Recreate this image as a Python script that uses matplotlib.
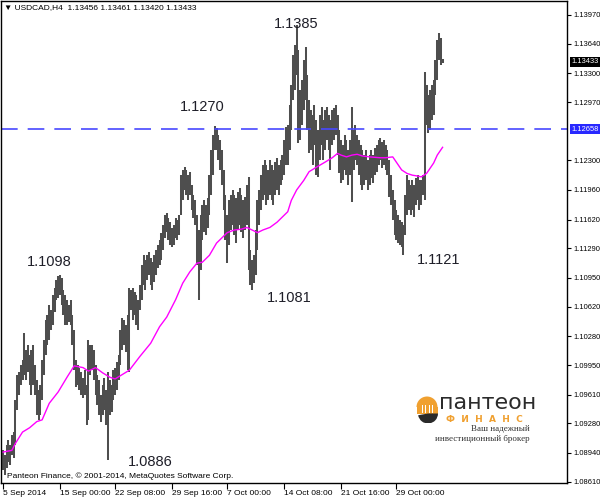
import matplotlib
matplotlib.use("Agg")
import matplotlib.pyplot as plt
from matplotlib.patches import Wedge, Rectangle
import numpy as np

# USDCAD H4 bars (high / low per bar)
highs = [
    1.0897, 1.0892, 1.0903, 1.0909, 1.0903, 1.0915, 1.0918, 1.0955, 1.0984, 1.0987,
    1.0995, 1.1001, 1.1032, 1.1012, 1.1018, 1.1007, 1.1012, 1.1018, 1.0995, 1.0978,
    1.0966, 1.0972, 1.1001, 1.1024, 1.1047, 1.1052, 1.1064, 1.1058, 1.1075, 1.1083,
    1.1093, 1.1097, 1.1098, 1.1095, 1.1081, 1.1075, 1.1070, 1.1064, 1.1070, 1.1052,
    1.1035, 1.1001, 1.0995, 1.0992, 1.0987, 1.0980, 1.0989, 1.0972, 1.1024, 1.1018,
    1.1018, 1.1012, 1.0995, 1.0984, 1.0978, 1.0961, 1.0972, 1.0980, 1.0966, 1.0987,
    1.0978, 1.0972, 1.0989, 1.0992, 1.0998, 1.1007, 1.1035, 1.1049, 1.1047, 1.1041,
    1.1052, 1.1083, 1.1081, 1.1083, 1.1079, 1.1075, 1.1070, 1.1087, 1.1110, 1.1121,
    1.1116, 1.1121, 1.1125, 1.1118, 1.1113, 1.1121, 1.1127, 1.1133, 1.1139, 1.1147,
    1.1156, 1.1167, 1.1169, 1.1164, 1.1159, 1.1152, 1.1156, 1.1164, 1.1161, 1.1167,
    1.1213, 1.1219, 1.1222, 1.1219, 1.1213, 1.1217, 1.1202, 1.1190, 1.1184, 1.1167,
    1.1150, 1.1167, 1.1179, 1.1184, 1.1179, 1.1187, 1.1213, 1.1242, 1.1259, 1.1270,
    1.1267, 1.1259, 1.1253, 1.1242, 1.1219, 1.1190, 1.1167, 1.1184, 1.1190, 1.1196,
    1.1190, 1.1187, 1.1194, 1.1198, 1.1190, 1.1184, 1.1188, 1.1202, 1.1211, 1.1127,
    1.1116, 1.1121, 1.1150, 1.1184, 1.1196, 1.1213, 1.1225, 1.1230, 1.1225, 1.1219,
    1.1230, 1.1225, 1.1219, 1.1228, 1.1233, 1.1225, 1.1230, 1.1236, 1.1253, 1.1268,
    1.1271, 1.1293, 1.1316, 1.1351, 1.1362, 1.1385, 1.1357, 1.1311, 1.1322, 1.1345,
    1.1360, 1.1328, 1.1299, 1.1288, 1.1282, 1.1293, 1.1276, 1.1265, 1.1282, 1.1291,
    1.1276, 1.1288, 1.1291, 1.1282, 1.1276, 1.1288, 1.1290, 1.1293, 1.1282, 1.1265,
    1.1253, 1.1248, 1.1259, 1.1253, 1.1242, 1.1253, 1.1291, 1.1265, 1.1271, 1.1259,
    1.1253, 1.1248, 1.1242, 1.1236, 1.1242, 1.1230, 1.1236, 1.1242, 1.1236, 1.1244,
    1.1248, 1.1253, 1.1256, 1.1251, 1.1253, 1.1248, 1.1242, 1.1230, 1.1213, 1.1196,
    1.1184, 1.1173, 1.1167, 1.1161, 1.1159, 1.1156, 1.1190, 1.1213, 1.1207, 1.1202,
    1.1207, 1.1202, 1.1210, 1.1213, 1.1207, 1.1207, 1.1213, 1.1331, 1.1316, 1.1305,
    1.1311, 1.1316, 1.1322, 1.1345, 1.1368, 1.1376, 1.1370, 1.13461,
]
lows = [
    1.0874, 1.0869, 1.0877, 1.0884, 1.0880, 1.0892, 1.0888, 1.0903, 1.0943, 1.0961,
    1.0972, 1.0978, 1.0984, 1.0978, 1.0987, 1.0972, 1.0961, 1.0972, 1.0961, 1.0938,
    1.0932, 1.0938, 1.0955, 1.0984, 1.1007, 1.1018, 1.1024, 1.1035, 1.1041, 1.1056,
    1.1070, 1.1072, 1.1075, 1.1064, 1.1052, 1.1041, 1.1041, 1.1044, 1.1041, 1.1018,
    1.0989, 1.0970, 1.0972, 1.0966, 1.0961, 1.0957, 1.0961, 1.0926, 1.0932, 1.0984,
    1.0989, 1.0978, 1.0961, 1.0949, 1.0938, 1.0930, 1.0938, 1.0943, 1.0926, 1.0886,
    1.0938, 1.0941, 1.0955, 1.0961, 1.0966, 1.0978, 1.0995, 1.1012, 1.1018, 1.1010,
    1.0989, 1.0987, 1.1058, 1.1047, 1.1052, 1.1041, 1.1035, 1.1058, 1.1070, 1.1087,
    1.1081, 1.1093, 1.1098, 1.1087, 1.1081, 1.1090, 1.1098, 1.1106, 1.1110, 1.1116,
    1.1127, 1.1141, 1.1148, 1.1139, 1.1133, 1.1130, 1.1133, 1.1141, 1.1139, 1.1144,
    1.1167, 1.1184, 1.1196, 1.1190, 1.1184, 1.1190, 1.1173, 1.1164, 1.1156, 1.1110,
    1.1070, 1.1104, 1.1139, 1.1148, 1.1144, 1.1152, 1.1167, 1.1190, 1.1213, 1.1242,
    1.1242, 1.1230, 1.1219, 1.1202, 1.1173, 1.1139, 1.1112, 1.1133, 1.1150, 1.1156,
    1.1144, 1.1135, 1.1150, 1.1156, 1.1148, 1.1141, 1.1150, 1.1156, 1.1104, 1.1087,
    1.1081, 1.1089, 1.1098, 1.1127, 1.1156, 1.1173, 1.1184, 1.1190, 1.1179, 1.1184,
    1.1190, 1.1184, 1.1179, 1.1190, 1.1196, 1.1190, 1.1202, 1.1207, 1.1213, 1.1225,
    1.1225, 1.1242, 1.1265, 1.1299, 1.1311, 1.1328, 1.1250, 1.1253, 1.1271, 1.1288,
    1.1299, 1.1265, 1.1238, 1.1242, 1.1225, 1.1248, 1.1213, 1.1211, 1.1230, 1.1248,
    1.1230, 1.1242, 1.1253, 1.1242, 1.1219, 1.1248, 1.1253, 1.1259, 1.1236, 1.1215,
    1.1204, 1.1207, 1.1219, 1.1213, 1.1202, 1.1213, 1.1182, 1.1219, 1.1230, 1.1225,
    1.1213, 1.1202, 1.1196, 1.1202, 1.1207, 1.1196, 1.1202, 1.1210, 1.1204, 1.1213,
    1.1217, 1.1225, 1.1230, 1.1221, 1.1225, 1.1219, 1.1213, 1.1188, 1.1179, 1.1161,
    1.1144, 1.1139, 1.1135, 1.1133, 1.1130, 1.1121, 1.1144, 1.1167, 1.1173, 1.1167,
    1.1173, 1.1165, 1.1179, 1.1184, 1.1173, 1.1179, 1.1190, 1.1184, 1.1271, 1.1261,
    1.1265, 1.1276, 1.1282, 1.1305, 1.1322, 1.1345, 1.1339, 1.13420,
]

# moving average (magenta), sampled at these bar numbers
ma_bars = [0, 5, 7, 11, 15, 19, 22, 26, 31, 36, 40, 45, 48, 52, 56, 60, 63, 67, 71,
           77, 83, 88, 92, 97, 101, 105, 109, 112, 116, 120, 123, 126, 130, 134, 137,
           140, 143, 146, 150, 154, 160, 162, 165, 169, 172, 176, 181, 185, 188, 190,
           193, 196, 199, 202, 206, 212, 215, 219, 221, 224, 227, 230, 233, 235, 238,
           242, 244, 247]
ma_vals = [1.0895, 1.0897, 1.0905, 1.0918, 1.0923, 1.0930, 1.0932, 1.0951, 1.0964,
           1.0981, 1.0994, 1.0992, 1.0988, 1.0992, 1.0986, 1.0981, 1.0979, 1.0984,
           1.0989, 1.1005, 1.1020, 1.1039, 1.1050, 1.1070, 1.1089, 1.1102, 1.1112,
           1.1113, 1.1121, 1.1135, 1.1141, 1.1147, 1.1150, 1.1151, 1.1153, 1.1150,
           1.1147, 1.1150, 1.1153, 1.1159, 1.1171, 1.1184, 1.1196, 1.1207, 1.1217,
           1.1222, 1.1228, 1.1233, 1.1238, 1.1236, 1.1234, 1.1236, 1.1237, 1.1235,
           1.1234, 1.1233, 1.1233, 1.1234, 1.1228, 1.1219, 1.1215, 1.1213, 1.1212,
           1.1211, 1.1215, 1.1227, 1.1236, 1.1245]

level = 1.12658
last_price = 1.13433
header = "\u25BC USDCAD,H4  1.13456 1.13461 1.13420 1.13433"

y_ticks = [1.13970, 1.13640, 1.13300, 1.12970, 1.12300, 1.11960, 1.11620, 1.11290,
           1.10950, 1.10620, 1.10280, 1.09950, 1.09610, 1.09280, 1.08940, 1.08610]
x_tick_bars = [0, 32, 63, 95, 126, 158, 190, 221]
x_tick_labels = ["5 Sep 2014", "15 Sep 00:00", "22 Sep 08:00", "29 Sep 16:00",
                 "7 Oct 00:00", "14 Oct 08:00", "21 Oct 16:00", "29 Oct 00:00"]

# swing labels: bar, label price level, text
swing_bars = [165, 112, 26, 161, 245, 83]
swing_y = [1.1387, 1.1291, 1.1113, 1.1072, 1.1116, 1.0884]
swing_text = ["1.1385", "1.1270", "1.1098", "1.1081", "1.1121", "1.0886"]

FONT = ["Liberation Sans", "DejaVu Sans"]
plt.rcParams["font.family"] = FONT

fig = plt.figure(figsize=(6, 5), dpi=100)
ax = fig.add_axes([1 / 600, 17 / 500, 566 / 600, 482 / 500])

bars = np.arange(len(highs))
ax.vlines(bars, lows, highs, colors="#4e4e4e", linewidth=1.45)
ax.plot(ma_bars, ma_vals, color="#ff00ff", linewidth=1.0)
ax.axhline(level, color="#4848ff", linewidth=1.2, dashes=(10, 6))

ax.set_xlim(-1.1, 316.9)
ax.set_ylim(1.08595, 1.14130)

ax.yaxis.tick_right()
ax.set_yticks(y_ticks)
ax.set_yticklabels([f"{v:.5f}" for v in y_ticks])
ax.tick_params(axis="y", length=3, width=0.8, pad=1.5, labelsize=5.4, colors="black")
ax.set_xticks(x_tick_bars)
ax.set_xticklabels(x_tick_labels, ha="left")
ax.tick_params(axis="x", length=4, width=0.8, pad=1, labelsize=6)
for sp in ax.spines.values():
    sp.set_linewidth(1.0)

# price tags on the right
for price, bg in [(last_price, "black"), (level, "#2828ff")]:
    ax.annotate(f"{price:.5f}", xy=(1.0, price), xycoords=("axes fraction", "data"),
                xytext=(3, 0), textcoords="offset points", ha="left", va="center",
                fontsize=5.4, color="white", annotation_clip=False,
                bbox=dict(boxstyle="square,pad=0.2", fc=bg, ec="none"))

for b, yv, t in zip(swing_bars, swing_y, swing_text):
    ax.text(b, yv, t, fontsize=10.5, color="#1e1e28", ha="center", va="center")

ax.text(0.006, 0.993, header, transform=ax.transAxes, fontsize=6, va="top", ha="left")
ax.text(0.011, 0.006, "Panteon Finance, \u00a9 2001-2014, MetaQuotes Software Corp.",
        transform=ax.transAxes, fontsize=6, va="bottom", ha="left")

# Panteon logo
lax = fig.add_axes([415 / 600, (500 - 423) / 500, 24 / 600, 30 / 500])
lax.set_xlim(-1.2, 1.2)
lax.set_ylim(-1.5, 1.5)
lax.set_aspect("equal")
lax.axis("off")
lax.add_patch(Wedge((0, 0.1), 1.05, 0, 180, fc="#f0a030", ec="none"))
lax.add_patch(Rectangle((-1.05, -0.6), 2.1, 0.7, fc="#f0a030", ec="none"))
for cx in [-0.55, -0.2, 0.15, 0.5]:
    lax.add_patch(Rectangle((cx, -0.45), 0.14, 0.75, fc="white", ec="none"))
lax.add_patch(Wedge((0.1, -0.55), 1.0, 190, 360, fc="#2a2a2a", ec="none"))

fig.text(488 / 600, 1 - 403 / 500, "\u043f\u0430\u043d\u0442\u0435\u043e\u043d",
         fontsize=16, color="#2b2b2b", ha="center", va="center", family=["DejaVu Sans"])
fig.text(484 / 600, 1 - 419 / 500, "\u0424  \u0418  \u041d  \u0410  \u041d  \u0421",
         fontsize=6.5, color="#f0a030", ha="center", va="center", weight="bold",
         family=["DejaVu Sans"])
fig.text(530 / 600, 1 - 429 / 500, "\u0412\u0430\u0448 \u043d\u0430\u0434\u0435\u0436\u043d\u044b\u0439",
         fontsize=6.5, color="#333333", ha="right", va="center", family=["Liberation Serif"])
fig.text(530 / 600, 1 - 439 / 500,
         "\u0438\u043d\u0432\u0435\u0441\u0442\u0438\u0446\u0438\u043e\u043d\u043d\u044b\u0439 \u0431\u0440\u043e\u043a\u0435\u0440",
         fontsize=6.5, color="#333333", ha="right", va="center", family=["Liberation Serif"])

fig.savefig("out.png", dpi=100)
